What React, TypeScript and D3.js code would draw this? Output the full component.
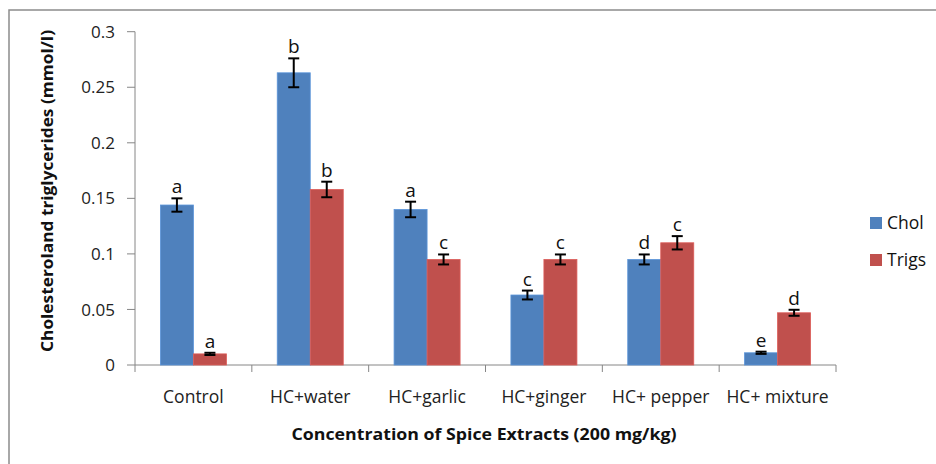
import React from "react";
import * as d3 from "d3";

const categories = ["Control", "HC+water", "HC+garlic", "HC+ginger", "HC+ pepper", "HC+ mixture"];
const seriesNames = ["Chol", "Trigs"];
const cholValues = [0.144, 0.263, 0.14, 0.063, 0.095, 0.011];
const trigValues = [0.01, 0.158, 0.095, 0.095, 0.11, 0.047];
const cholErrors = [0.006, 0.013, 0.007, 0.004, 0.0045, 0.001];
const trigErrors = [0.001, 0.007, 0.0045, 0.0045, 0.006, 0.0027];
const cholLetters = ["a", "b", "a", "c", "d", "e"];
const trigLetters = ["a", "b", "c", "c", "c", "d"];
const yTicks = [0, 0.05, 0.1, 0.15, 0.2, 0.25, 0.3];
const colors = ["#4F81BD", "#C0504D"];

const W = 936;
const H = 464;
const plot = { left: 135, right: 836, top: 31.7, bottom: 365 };
const font = "'Open Sans', 'DejaVu Sans', sans-serif";

export default function App() {
  const y = d3.scaleLinear().domain([0, 0.3]).range([plot.bottom, plot.top]);
  const x0 = d3.scaleBand<string>().domain(categories).range([plot.left, plot.right]).padding(0);
  const x1 = d3
    .scaleBand<string>()
    .domain(seriesNames)
    .range([0, x0.bandwidth()])
    .paddingInner(0)
    .paddingOuter(0.77);

  const values = [cholValues, trigValues];
  const errors = [cholErrors, trigErrors];
  const letters = [cholLetters, trigLetters];
  const axisColor = "#868686";

  return (
    <svg
      width={W}
      height={H}
      style={{ position: "absolute", left: 0, top: 0, background: "#fff" }}
      fontFamily={font}
    >
      <rect x={9} y={10} width={W + 20} height={H + 20} fill="#fff" stroke="#8c8c8c" strokeWidth={1.5} />

      {/* y axis */}
      <line x1={plot.left} x2={plot.left} y1={y(0.3)} y2={y(0)} stroke={axisColor} strokeWidth={1} />
      {yTicks.map((t) => (
        <g key={t}>
          <line x1={plot.left - 8} x2={plot.left} y1={y(t)} y2={y(t)} stroke={axisColor} />
          <text x={115} y={y(t)} dy="0.36em" textAnchor="end" fontSize={17} fill="#222">
            {String(t)}
          </text>
        </g>
      ))}

      {/* x axis */}
      <line x1={plot.left} x2={plot.right} y1={y(0)} y2={y(0)} stroke={axisColor} />
      {[...categories.map((c) => x0(c) as number), plot.right].map((px, i) => (
        <line key={i} x1={px} x2={px} y1={y(0)} y2={y(0) + 7} stroke={axisColor} />
      ))}
      {categories.map((c) => (
        <text
          key={c}
          x={(x0(c) as number) + x0.bandwidth() / 2}
          y={403}
          textAnchor="middle"
          fontSize={17.5}
          fill="#222"
        >
          {c}
        </text>
      ))}

      {/* bars */}
      {seriesNames.map((s, si) =>
        categories.map((c, ci) => {
          const v = values[si][ci];
          const e = errors[si][ci];
          const bx = (x0(c) as number) + (x1(s) as number);
          const bw = x1.bandwidth();
          const cx = bx + bw / 2;
          return (
            <g key={s + c}>
              <rect x={bx} y={y(v)} width={bw} height={y(0) - y(v)} fill={colors[si]} stroke={d3.color(colors[si])!.brighter(0.4).toString()} strokeWidth={0.8} />
              <line x1={cx} x2={cx} y1={y(v + e)} y2={y(v - e)} stroke="#000" strokeWidth={2} />
              <line x1={cx - 5.5} x2={cx + 5.5} y1={y(v + e)} y2={y(v + e)} stroke="#000" strokeWidth={2} />
              <line x1={cx - 5.5} x2={cx + 5.5} y1={y(v - e)} y2={y(v - e)} stroke="#000" strokeWidth={2} />
              <text x={cx} y={y(v + e) - 5} textAnchor="middle" fontSize={19} fill="#111">
                {letters[si][ci]}
              </text>
            </g>
          );
        })
      )}

      {/* axis titles */}
      <text
        x={484}
        y={440}
        textAnchor="middle"
        fontSize={16.5}
        fontWeight="bold"
        fill="#111"
        textLength={385}
        lengthAdjust="spacingAndGlyphs"
      >
        Concentration of Spice Extracts (200 mg/kg)
      </text>
      <text
        transform={`translate(53,191) rotate(-90)`}
        textAnchor="middle"
        fontSize={16.5}
        fontWeight="bold"
        fill="#111"
        textLength={322}
        lengthAdjust="spacingAndGlyphs"
      >
        Cholesteroland triglycerides (mmol/l)
      </text>

      {/* legend */}
      {seriesNames.map((s, i) => (
        <g key={s} transform={`translate(870,${217 + i * 37})`}>
          <rect x={0} y={0} width={12} height={12} fill={colors[i]} />
          <text x={17} y={11.5} fontSize={17.5} fill="#111">
            {s}
          </text>
        </g>
      ))}
    </svg>
  );
}
